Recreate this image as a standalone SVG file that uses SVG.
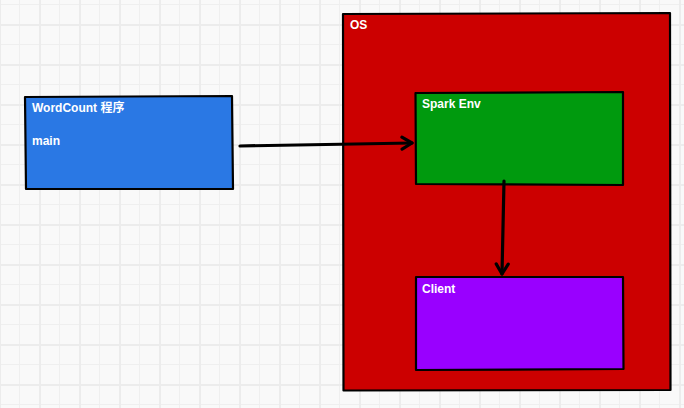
<svg xmlns="http://www.w3.org/2000/svg" width="684" height="408" viewBox="0 0 684 408">
  <defs>
    <pattern id="minor" width="20" height="20" patternUnits="userSpaceOnUse" x="-1" y="4">
      <path d="M0 0.5H20M0.5 0V20" stroke="#efefef" stroke-width="1" fill="none"/>
    </pattern>
    <pattern id="major" width="40" height="40" patternUnits="userSpaceOnUse" x="-1" y="24">
      <path d="M0 1H40M1 0V40" stroke="#ececec" stroke-width="2" fill="none"/>
    </pattern>
    <marker id="chev" viewBox="0 0 16 16" refX="13" refY="8" markerWidth="16" markerHeight="16" markerUnits="userSpaceOnUse" orient="auto">
      <path d="M3 2L13 8L3 14" fill="none" stroke="#000" stroke-width="3.2" stroke-linecap="round" stroke-linejoin="round"/>
    </marker>
  </defs>
  <style>
    .box { stroke: #000; stroke-width: 2.2; stroke-linejoin: round; }
    .lbl { font-family: "Liberation Sans", "Noto Sans CJK SC", sans-serif; font-size: 12px; font-weight: bold; fill: #ffffff; }
    .edge { fill: none; stroke: #000; stroke-width: 3.2; stroke-linecap: round; }
  </style>
  <rect width="684" height="408" fill="#f9f9f9"/>
  <rect width="684" height="408" fill="url(#minor)"/>
  <rect width="684" height="408" fill="url(#major)"/>

  <g id="wordcount">
    <path class="box" d="M25 97L232 96L233 189L26 189Z" fill="#2a78e4"/>
    <text class="lbl" x="32" y="112">WordCount 程序</text>
    <text class="lbl" x="32" y="145">main</text>
  </g>

  <g id="os">
    <path class="box" d="M343 14L670 13L670.5 390L343.5 390.5Z" fill="#cc0000"/>
    <text class="lbl" x="350" y="29">OS</text>
  </g>

  <g id="sparkenv">
    <path class="box" d="M415.5 93L623 92L623 185L416 184Z" fill="#009a0e"/>
    <text class="lbl" x="422" y="108">Spark Env</text>
  </g>

  <g id="client">
    <path class="box" d="M416 277L623 277L623.5 369L416 370Z" fill="#9900ff"/>
    <text class="lbl" x="422" y="293">Client</text>
  </g>

  <g id="connectors">
    <path class="edge" d="M240 146L412 143" marker-end="url(#chev)"/>
    <path class="edge" d="M504 181L502 274" marker-end="url(#chev)"/>
  </g>
</svg>
